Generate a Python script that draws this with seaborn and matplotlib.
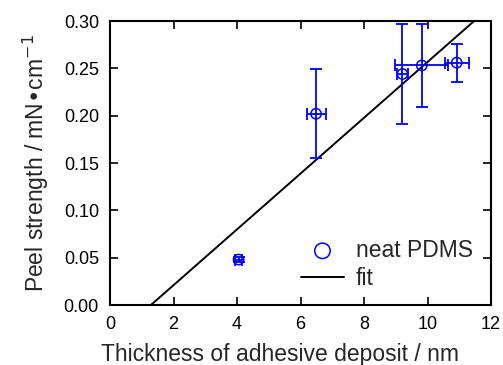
import numpy as np
import pandas as pd
import matplotlib
matplotlib.use("Agg")
import matplotlib.pyplot as plt
import seaborn as sns

# Data
thickness = [4.05, 6.49, 9.21, 9.82, 10.92]
thickness_err = [0.1, 0.30, 0.17, 0.83, 0.38]
peel = [0.048, 0.202, 0.244, 0.253, 0.256]
peel_err = [0.003, 0.047, 0.053, 0.044, 0.020]
fit_slope = 0.02947
fit_intercept = -0.038
fit_x = [0.0, 12.0]

sns.set_style("ticks")
plt.rcParams['font.family'] = ['Liberation Sans', 'DejaVu Sans']
plt.rcParams.update({
    'xtick.direction': 'in', 'ytick.direction': 'in',
    'xtick.top': True, 'ytick.right': True,
    'xtick.major.size': 6, 'ytick.major.size': 6,
    'axes.linewidth': 1.5, 'xtick.major.width': 1.2, 'ytick.major.width': 1.2,
})

fig = plt.figure(figsize=(5.03, 3.65), dpi=100)
ax = fig.add_axes([110/503, 1-305/365, 381/503, 284/365])

df = pd.DataFrame({'x': thickness, 'y': peel})
fit_df = pd.DataFrame({'x': fit_x, 'y': [fit_slope * v + fit_intercept for v in fit_x]})

ax.errorbar(thickness, peel, xerr=thickness_err, yerr=peel_err, fmt='none',
            ecolor='#0000ff', elinewidth=1.3, capsize=4, capthick=1.3, zorder=2)
sns.scatterplot(data=df, x='x', y='y', ax=ax, marker='o', s=55,
                facecolors='none', edgecolor='#0000ff', linewidth=1.1,
                label='neat PDMS', zorder=3)
sns.lineplot(data=fit_df, x='x', y='y', ax=ax, color='black', linewidth=1.4,
             label='fit', zorder=1)

ax.set_xlim(0, 12)
ax.set_ylim(0, 0.30)
ax.set_xticks([0, 2, 4, 6, 8, 10, 12])
ax.set_yticks([0.0, 0.05, 0.10, 0.15, 0.20, 0.25, 0.30])
ax.set_yticklabels(['0.00', '0.05', '0.10', '0.15', '0.20', '0.25', '0.30'])
ax.tick_params(labelsize=13, colors='black', pad=8)
ax.set_xlabel('Thickness of adhesive deposit / nm', fontsize=16.5)
ax.xaxis.set_label_coords(0.447, -0.135)
ax.set_ylabel('Peel strength / mN\u2022cm$^{-1}$', fontsize=16.5, labelpad=9)
for s in ax.spines.values():
    s.set_color('black')

leg = ax.legend(loc='lower right', frameon=False, fontsize=16.5,
                handlelength=1.9, handletextpad=0.5, borderaxespad=0.0,
                labelspacing=0.22, markerscale=1.5,
                bbox_to_anchor=(0.976, 0.021))

fig.savefig('out.png', dpi=100)
